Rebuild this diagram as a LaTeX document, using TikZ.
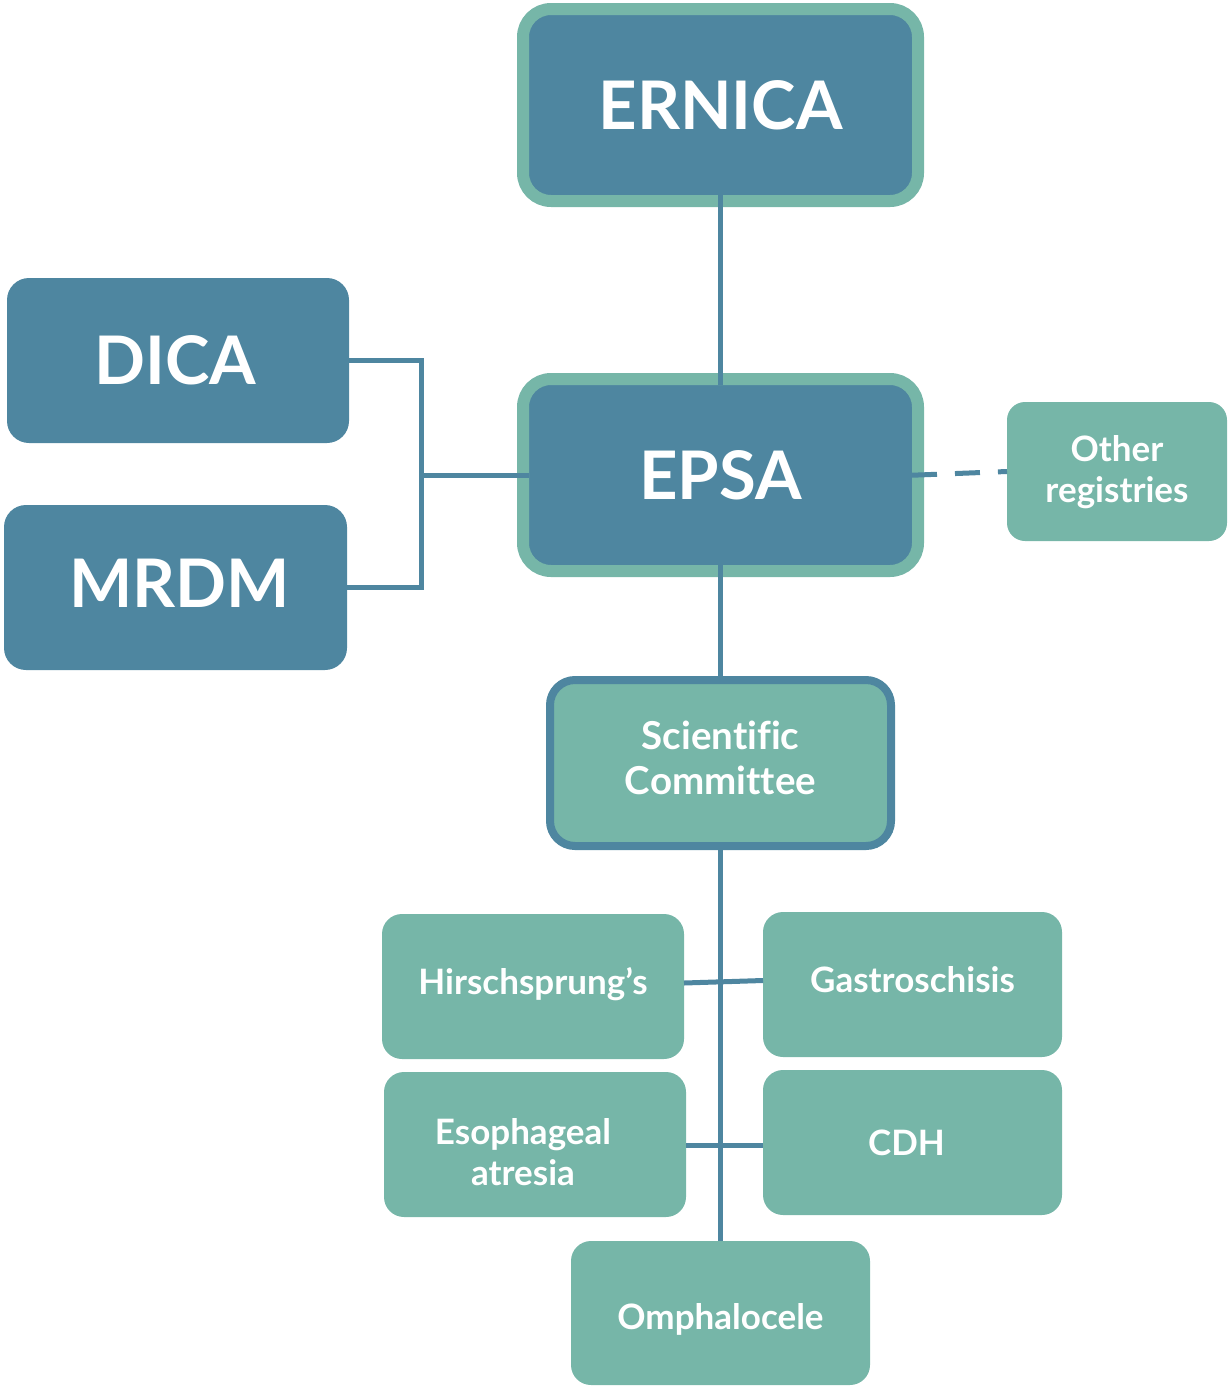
\documentclass[tikz,border=0pt]{standalone}
\usepackage{fontspec}
\setmainfont{Lato}[Ligatures=NoCommon]
\definecolor{dkblue}{HTML}{4E86A0}
\definecolor{mgreen}{HTML}{76B6A8}
\tikzset{
  bigbox/.style={draw=mgreen, fill=dkblue, line width=12pt, outer sep=0pt, inner sep=0pt,
    rounded corners=28pt},
  sidebox/.style={fill=dkblue, outer sep=0pt, inner sep=0pt, rounded corners=22pt},
  scbox/.style={draw=dkblue, fill=mgreen, line width=8pt, outer sep=0pt, inner sep=0pt,
    rounded corners=25pt},
  smallbox/.style={fill=mgreen, outer sep=0pt, inner sep=0pt, rounded corners=20pt},
  bigtext/.style={text=white, inner sep=0pt, font=\fontsize{67}{72}\selectfont\bfseries},
  smalltext/.style={text=white, inner sep=0pt, align=center, font=\fontsize{35}{41}\selectfont\bfseries},
  sctext/.style={text=white, inner sep=0pt, align=center, font=\fontsize{38.5}{45}\selectfont\bfseries},
  link/.style={draw=dkblue, line width=5pt},
}
\begin{document}
\begin{tikzpicture}[x=1pt, y=-1pt]
\useasboundingbox (0,0) rectangle (1230,1390);
% boxes
\node[bigbox, minimum width=395pt, minimum height=192pt] (ernica) at (720.5,105) {};
\node[bigbox, minimum width=395pt, minimum height=192pt] (epsa) at (720.5,475) {};
\node[sidebox, minimum width=342pt, minimum height=165pt] (dica) at (178,360.5) {};
\node[sidebox, minimum width=343pt, minimum height=165pt] (mrdm) at (175.5,587.5) {};
\node[smallbox, rounded corners=18pt, minimum width=220pt, minimum height=139pt] (other) at (1117,471.5) {};
\node[scbox, minimum width=341pt, minimum height=166pt] (sc) at (720.5,763) {};
\node[smallbox, minimum width=302pt, minimum height=145pt] (hirsch) at (533,986.5) {};
\node[smallbox, minimum width=299pt, minimum height=145pt] (gastro) at (912.5,984.5) {};
\node[smallbox, minimum width=302pt, minimum height=145pt] (eso) at (535,1144.5) {};
\node[smallbox, minimum width=299pt, minimum height=145pt] (cdh) at (912.5,1142.5) {};
\node[smallbox, minimum width=299pt, minimum height=144pt] (omph) at (720.5,1313) {};
% texts
\node[bigtext] (ernica-t) at (ernica.center) {ERNICA};
\node[bigtext] (epsa-t) at (epsa.center) {EPSA};
\node[bigtext] (dica-t) at ([shift={(-3,0)}]dica.center) {DICA};
\node[bigtext] (mrdm-t) at ([shift={(4,-4)}]mrdm.center) {MRDM};
\node[smalltext] (other-t) at ([shift={(0,1)}]other.center) {Other\\registries};
\node[sctext] (sc-t) at ([shift={(0,-5)}]sc.center) {Scientific\\Committee};
\node[smalltext] (hirsch-t) at ([shift={(0,-2)}]hirsch.center) {Hirschsprung’s};
\node[smalltext] (gastro-t) at ([shift={(0,-5)}]gastro.center) {Gastroschisis};
\node[smalltext] (eso-t) at ([shift={(-12,8)}]eso.center) {Esophageal\\atresia};
\node[smalltext] (cdh-t) at ([shift={(-6,0)}]cdh.center) {CDH};
\node[smalltext] (omph-t) at ([shift={(0,6)}]omph.center) {Omphalocele};
% connectors
\coordinate (jn) at (421,475);
\draw[link, shorten <=-6pt, shorten >=-6pt] (ernica.south) -- (epsa.north);
\draw[link, shorten <=-6pt, shorten >=-4pt] (epsa.south) -- (sc.north);
\draw[link, shorten <=-4pt] (sc.south) -- (omph.north);
\draw[link] (dica.east) -| (jn) |- (mrdm.east);
\draw[link, shorten >=-6pt] (jn) -- (epsa.west);
\draw[link, dash pattern=on 25pt off 18pt, shorten <=-6pt] (epsa.east) -- (other.west);
\draw[link] ([yshift=3.5pt]hirsch.east) -- ([yshift=4pt]gastro.west);
\draw[link] ([yshift=-0.5pt]eso.east) -- ([yshift=-2.5pt]cdh.west);
\end{tikzpicture}
\end{document}
